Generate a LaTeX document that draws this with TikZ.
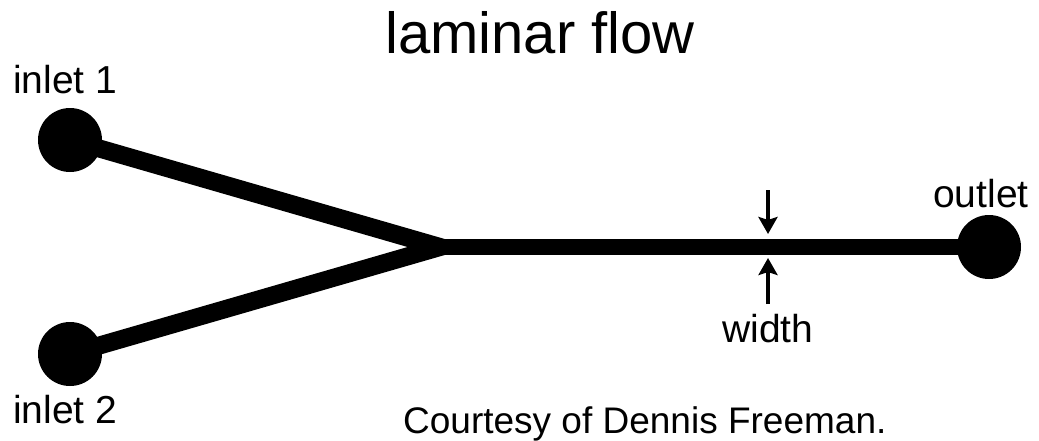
\documentclass[tikz,border=0pt]{standalone}
\usepackage{fontspec}
\setmainfont{Liberation Sans}
\usetikzlibrary{arrows.meta}
\tikzset{
  port/.style={circle, fill=black, minimum size=64pt, inner sep=0pt},
  lbl/.style={anchor=base west, inner sep=0pt, font=\fontsize{39}{47}\selectfont},
  branch/.style={line width=18pt, line join=miter},
  channel/.style={line width=16pt},
  marker/.style={line width=4pt, -{Stealth[length=17pt, width=19pt, inset=3pt]}}
}
\begin{document}
\begin{tikzpicture}[x=1pt, y=-1pt]
\useasboundingbox (0,0) rectangle (1039,440);
% title
\node[anchor=base west, inner sep=0pt, font=\fontsize{58}{70}\selectfont] (title) at (385,53) {laminar flow};
% ports
\node[port] (in1) at (70,140) {};
\node[port] (in2) at (70,354) {};
\node[port] (out) at (989,247) {};
\coordinate (J) at (440,247);
% channels
\draw[branch] (in1.center) -- (J) -- (in2.center);
\draw[channel] (J) -- (out.center);
% width markers
\coordinate (d1) at (768,190);
\coordinate (d2) at (768,234);
\coordinate (u1) at (768,304);
\coordinate (u2) at (768,258);
\draw[marker] (d1) -- (d2);
\draw[marker] (u1) -- (u2);
% labels
\node[lbl] (l1) at (13,93) {inlet 1};
\node[lbl] (l2) at (13,423) {inlet 2};
\node[lbl] (lo) at (933,207) {outlet};
\node[lbl, anchor=base] (lw) at (768,342) {width};
\node[anchor=base west, inner sep=0pt, font=\fontsize{37}{44}\selectfont] (cr) at (403,433) {Courtesy of Dennis Freeman.};
\end{tikzpicture}
\end{document}
